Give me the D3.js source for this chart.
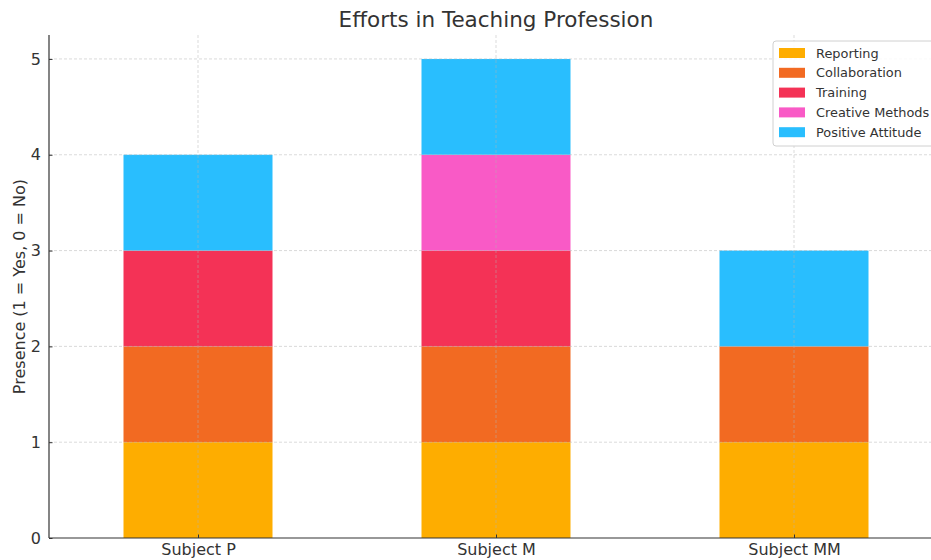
<!DOCTYPE html>
<html>
<head>
<meta charset="utf-8">
<script src="https://cdn.jsdelivr.net/npm/d3@7"></script>
<style>
  body { margin: 0; background: #fff; }
  svg { display: block; font-family: "DejaVu Sans", sans-serif; }
</style>
</head>
<body>
<div id="chart"></div>
<script>
// Data
const subjects = ["Subject P", "Subject M", "Subject MM"];
const efforts = ["Reporting", "Collaboration", "Training", "Creative Methods", "Positive Attitude"];
const reporting = [1, 1, 1];
const collaboration = [1, 1, 1];
const training = [1, 1, 0];
const creativeMethods = [0, 1, 0];
const positiveAttitude = [1, 1, 1];
const colors = ["#FEAD00", "#F26A22", "#F43256", "#F95AC6", "#29BEFE"];
const yTicks = [0, 1, 2, 3, 4, 5];

const series = [reporting, collaboration, training, creativeMethods, positiveAttitude];
let rows = subjects.map((s, i) => {
  let r = { subject: s, idx: i };
  efforts.forEach((e, k) => r[e] = series[k][i]);
  return r;
});

let width = 931, height = 560;
let margin = { top: 35, left: 49, bottom: 22 };
let plotBottom = height - margin.bottom;

let svg = d3.select("#chart").append("svg")
  .attr("width", width)
  .attr("height", height);

let x = d3.scaleLinear().domain([-0.5, 2.5]).range([margin.left, margin.left + 3 * 298]);
let y = d3.scaleLinear().domain([0, 5.25]).range([plotBottom, margin.top]);

let stack = d3.stack().keys(efforts)(rows);

// bars
let layers = svg.append("g").selectAll("g")
  .data(stack)
  .join("g")
  .attr("fill", (d, i) => colors[i]);

layers.selectAll("rect")
  .data(d => d.filter(p => p[1] > p[0]))
  .join("rect")
  .attr("x", d => x(d.data.idx - 0.25))
  .attr("width", x(0.25) - x(-0.25))
  .attr("y", d => y(d[1]))
  .attr("height", d => y(d[0]) - y(d[1]));

// grid on top of bars
let grid = svg.append("g")
  .attr("stroke", "#b0b0b0")
  .attr("stroke-opacity", 0.6)
  .attr("stroke-width", 0.8)
  .attr("stroke-dasharray", "3,2");

grid.selectAll(".hg")
  .data(yTicks.filter(t => t > 0))
  .join("line")
  .attr("x1", margin.left).attr("x2", width)
  .attr("y1", d => y(d)).attr("y2", d => y(d));

grid.selectAll(".vg")
  .data(subjects)
  .join("line")
  .attr("x1", (d, i) => x(i)).attr("x2", (d, i) => x(i))
  .attr("y1", margin.top).attr("y2", plotBottom);

// axes
let yAxis = svg.append("g")
  .attr("transform", "translate(" + margin.left + ",0)")
  .call(d3.axisLeft(y).tickValues(yTicks).tickFormat(d3.format("d")).tickSize(-3.5).tickPadding(8));

let xAxis = svg.append("g")
  .attr("transform", "translate(0," + plotBottom + ")")
  .call(d3.axisBottom(x).tickValues([0, 1, 2]).tickFormat(i => subjects[i]).tickSize(-3.5).tickPadding(6));

[xAxis, yAxis].forEach(a => {
  a.select(".domain").attr("stroke", "#333").attr("stroke-width", 1.2);
  a.selectAll(".tick line").attr("stroke", "#333");
  a.selectAll("text").attr("fill", "#333").style("font-size", "16px").style("font-family", "DejaVu Sans");
});
// only left and bottom spines, and left spine only the plotted extent
yAxis.select(".domain").attr("d", "M0," + margin.top + "V" + plotBottom);
xAxis.select(".domain").attr("d", "M" + margin.left + ",0H" + width);

// title
svg.append("text")
  .attr("x", x(1))
  .attr("y", 27)
  .attr("text-anchor", "middle")
  .attr("fill", "#333")
  .style("font-size", "21.5px")
  .text("Efforts in Teaching Profession");

// y label
svg.append("text")
  .attr("transform", "translate(25," + ((margin.top + plotBottom) / 2) + ") rotate(-90)")
  .attr("text-anchor", "middle")
  .attr("fill", "#333")
  .style("font-size", "16px")
  .text("Presence (1 = Yes, 0 = No)");

// legend
let legend = svg.append("g").attr("transform", "translate(773,41)");
legend.append("rect")
  .attr("width", 170).attr("height", 105)
  .attr("rx", 3)
  .attr("fill", "#fff").attr("fill-opacity", 0.85)
  .attr("stroke", "#d0d0d0");

let items = legend.selectAll(".item")
  .data(efforts)
  .join("g")
  .attr("transform", (d, i) => "translate(6," + (12 + i * 19.8) + ")");

items.append("rect")
  .attr("x", 0).attr("y", -5)
  .attr("width", 26).attr("height", 10)
  .attr("fill", (d, i) => colors[i]);

items.append("text")
  .attr("x", 37).attr("y", 0)
  .attr("dy", "0.35em")
  .attr("fill", "#333")
  .style("font-size", "12.9px")
  .text(d => d);
</script>
</body>
</html>
